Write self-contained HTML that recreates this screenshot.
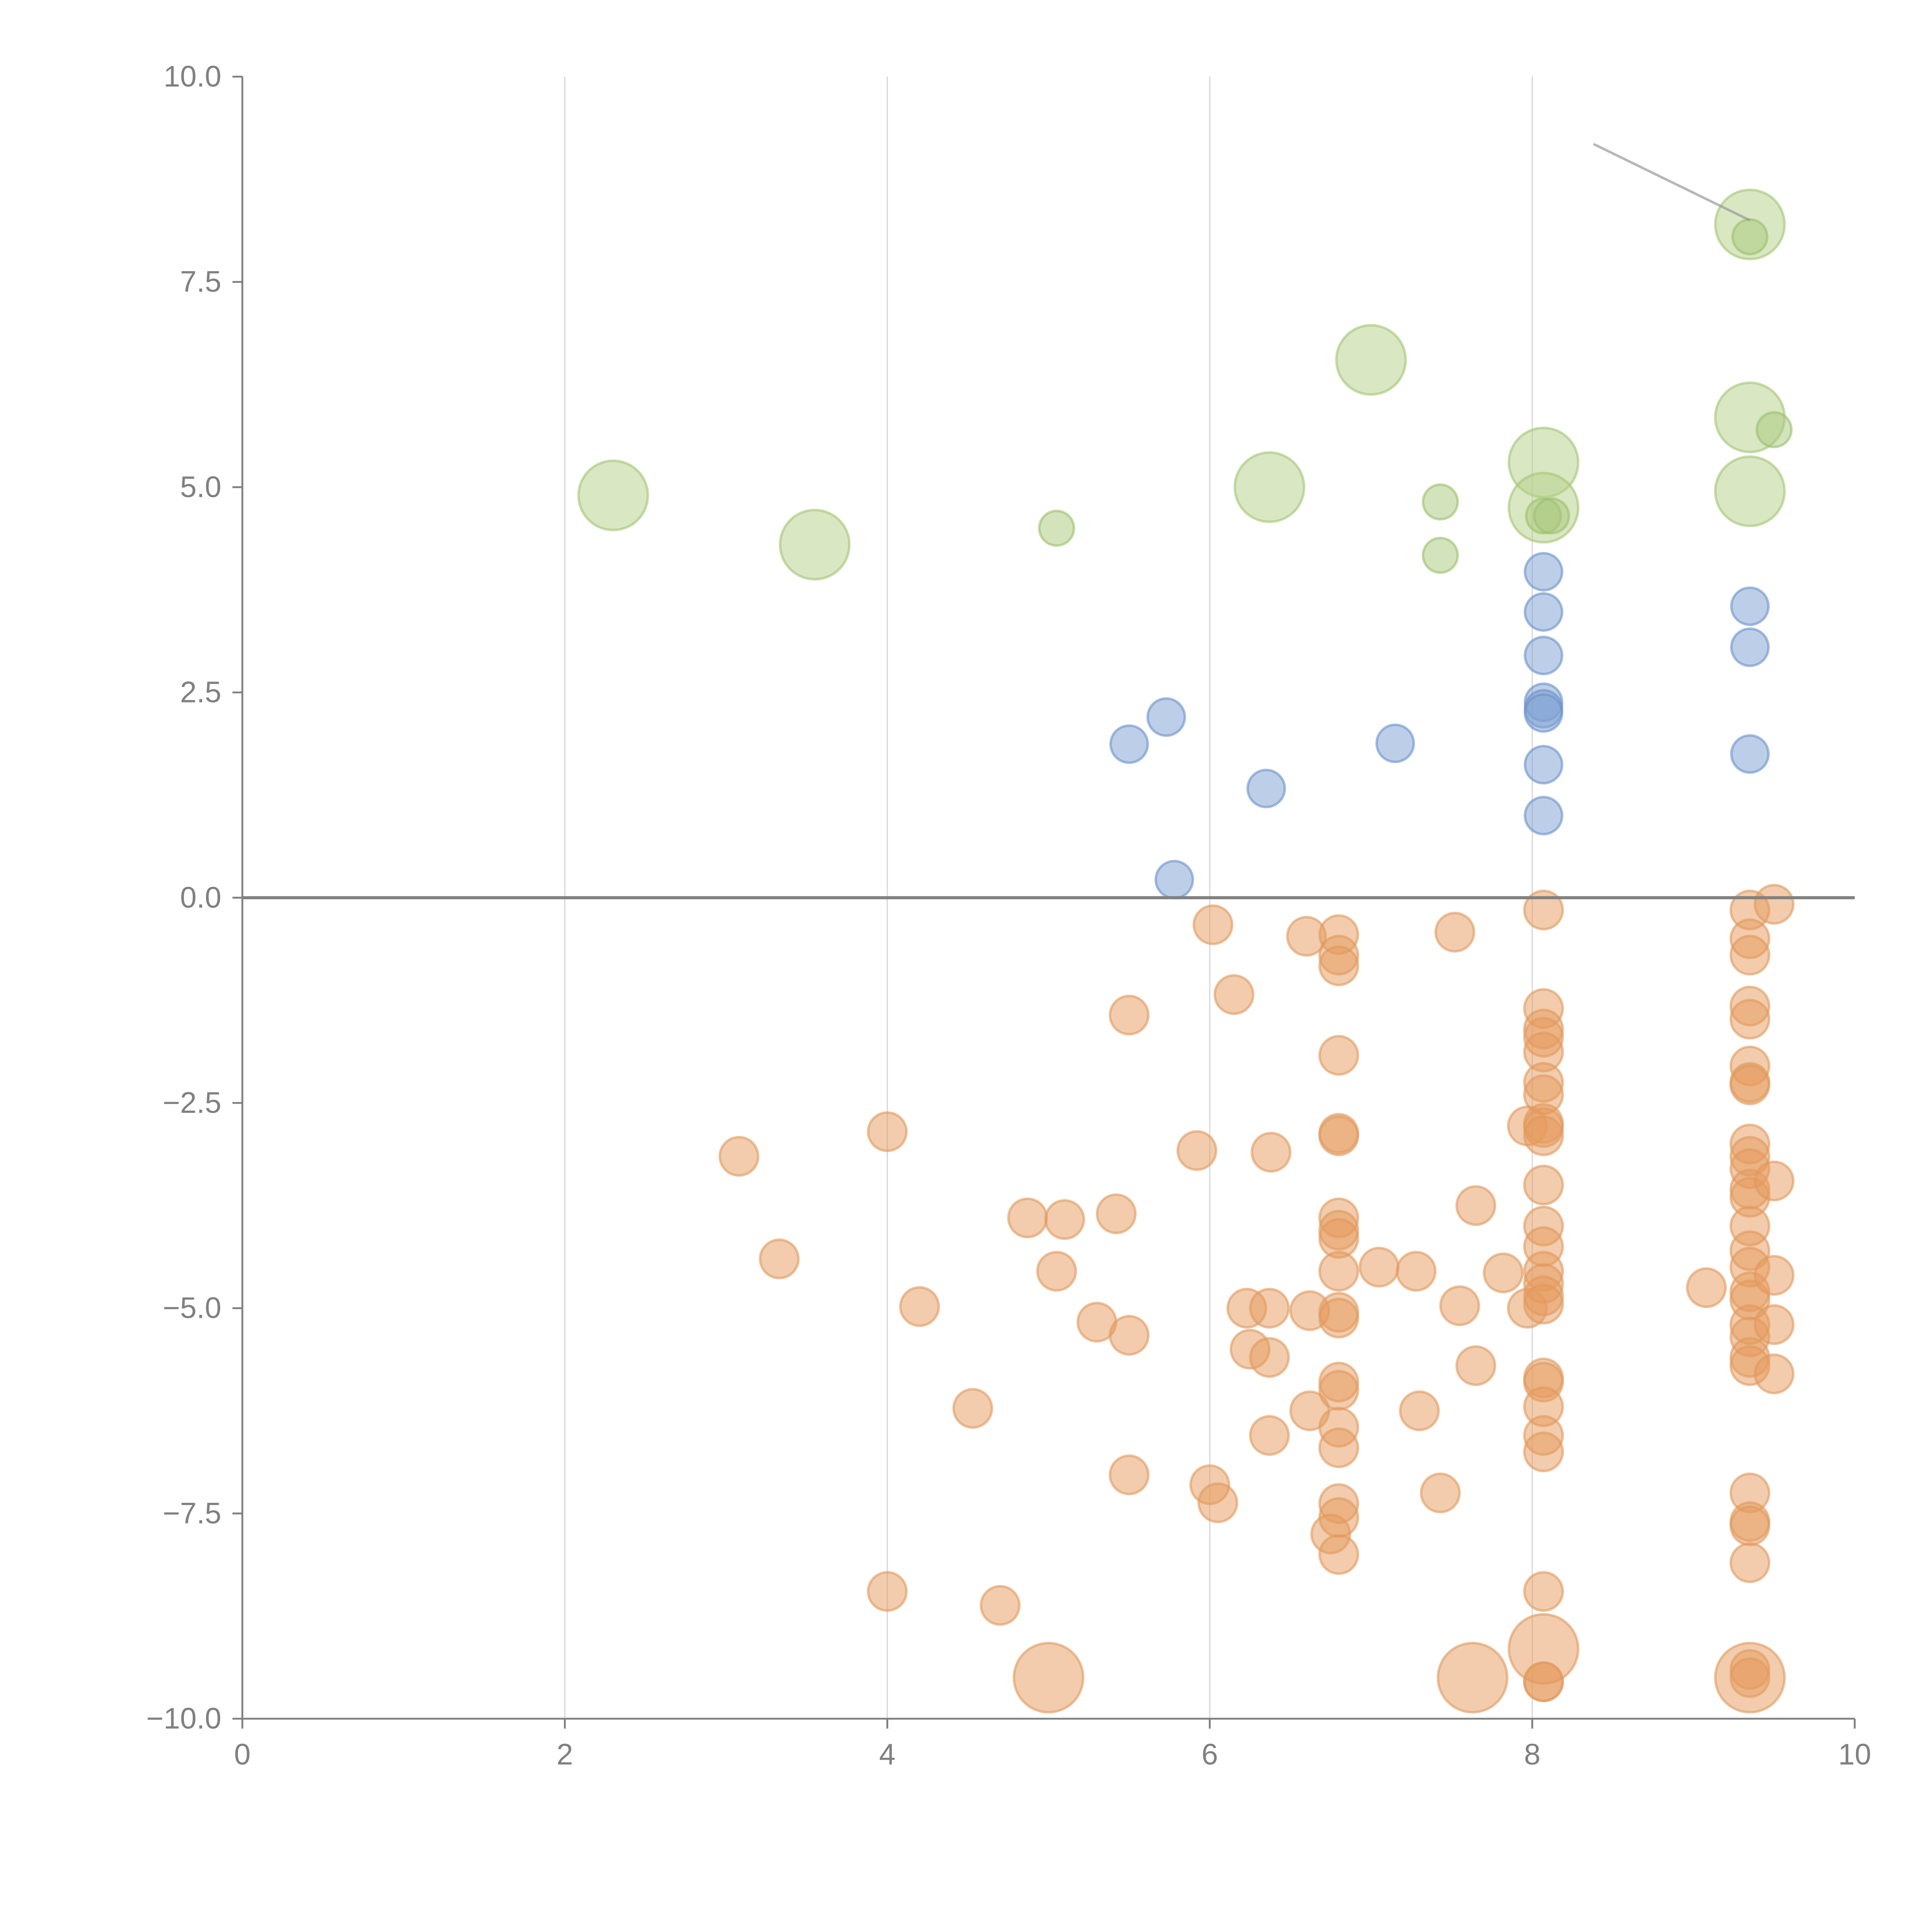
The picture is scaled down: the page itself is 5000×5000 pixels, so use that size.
<!DOCTYPE html>
<html><head><meta charset="utf-8"><style>
html,body{margin:0;padding:0;background:#fff;}
svg{display:block;}
text{font-family:"Liberation Sans",sans-serif;}
</style></head><body>
<svg id="chart" width="5000" height="5000" viewBox="0 0 1562.5 1562.5" xmlns="http://www.w3.org/2000/svg">
<g id="grid"></g>
<g id="marks"></g>
<g id="axes"></g>
</svg>
<script>
const xTicks=[0,2,4,6,8,10];
const yTicks=[10,7.5,5,2.5,0,-2.5,-5,-7.5,-10];
const yTickLabels=["10.0","7.5","5.0","2.5","0.0","\u22122.5","\u22125.0","\u22127.5","\u221210.0"];
const greenBigX=[2.3,3.55,6.37,7.0,8.07,8.07,9.35,9.35,9.35];
const greenBigY=[4.9,4.3,5.0,6.55,5.3,4.75,8.2,5.85,4.95];
const greenSmallX=[5.05,7.43,7.43,9.35,9.5,8.07,8.12];
const greenSmallY=[4.5,4.82,4.17,8.05,5.7,4.65,4.65];
const blueX=[5.5,5.73,5.78,6.35,7.15,8.07,8.07,8.07,8.07,8.07,8.07,8.07,8.07,9.35,9.35,9.35];
const blueY=[1.87,2.2,0.22,1.33,1.88,3.97,3.48,2.95,2.38,2.3,2.25,1.62,1.0,3.55,3.05,1.75];
const orangeX=[6.02,6.6,6.8,6.8,6.8,7.52,5.5,6.15,6.8,4.0,3.08,5.92,6.38,6.8,6.8,3.33,4.2,4.87,5.1,5.42,5.05,5.3,5.5,4.53,5.5,6.0,6.05,6.23,6.37,6.25,6.37,6.37,6.62,6.62,6.8,6.8,6.8,6.8,6.8,6.8,6.8,6.8,6.8,6.8,6.8,6.8,6.75,6.8,7.05,7.28,7.3,7.43,7.55,7.65,7.65,7.82,7.97,4.0,4.7,7.97,
8.07,8.07,8.07,8.07,8.07,8.07,8.07,8.07,8.07,8.07,8.07,8.07,8.07,8.07,8.07,8.07,8.07,8.07,8.07,8.07,8.07,8.07,8.07,8.07,8.07,
9.35,9.35,9.35,9.35,9.35,9.35,9.35,9.35,9.35,9.35,9.35,9.35,9.35,9.35,9.35,9.35,9.35,9.35,9.35,9.35,9.35,9.35,9.35,9.35,9.35,9.35,9.35,9.35,
9.5,9.5,9.5,9.5,9.5,9.08];
const orangeY=[-0.33,-0.47,-0.45,-0.7,-0.83,-0.42,-1.43,-1.18,-1.92,-2.85,-3.15,-3.08,-3.1,-2.87,-2.9,-4.4,-4.98,-3.9,-3.92,-3.85,-4.55,-5.17,-5.33,-6.22,-7.03,-7.15,-7.37,-5.0,-5.0,-5.5,-5.6,-6.55,-5.03,-6.25,-3.9,-4.05,-4.15,-4.55,-5.05,-5.12,-5.9,-6.0,-6.45,-6.7,-7.38,-7.55,-7.75,-8.0,-4.5,-4.55,-6.25,-7.25,-4.97,-3.75,-5.7,-4.57,-5.0,-8.45,-8.62,-2.78,
-0.15,-1.35,-1.6,-1.7,-1.88,-2.25,-2.4,-2.75,-2.8,-2.9,-3.5,-4.0,-4.25,-4.55,-4.7,-4.85,-4.95,-5.85,-5.9,-6.2,-6.55,-6.75,-8.45,-9.55,-9.55,
-0.15,-0.5,-0.7,-1.32,-1.48,-2.05,-2.25,-2.28,-3.0,-3.15,-3.3,-3.55,-3.65,-4.0,-4.3,-4.5,-4.8,-4.9,-5.2,-5.35,-5.6,-5.7,-7.25,-7.6,-7.65,-8.1,-9.4,-9.5,
-0.08,-3.45,-4.6,-5.2,-5.8,-4.75];
const orangeBigX=[5.0,7.63,8.07,9.35];
const orangeBigY=[-9.5,-9.5,-9.15,-9.5];

const X0=196,X1=1500,Y0=1390,Y1=62;
function sx(v){return X0+(v-0)/(10-0)*(X1-X0);}
function sy(v){return Y0-(v+10)/20*(Y0-Y1);}
const NS="http://www.w3.org/2000/svg";
function mk(tag,attrs,parent){const e=document.createElementNS(NS,tag);for(const k in attrs)e.setAttribute(k,attrs[k]);parent.appendChild(e);return e;}
const grid=document.getElementById('grid'),marks=document.getElementById('marks'),axes=document.getElementById('axes');

xTicks.forEach(t=>{ if(t>0&&t<10){const l=mk('line',{x1:sx(t),x2:sx(t),y1:Y1,y2:Y0,stroke:'#d8d8d8','stroke-width':1},grid);

}});

function dots(xs,ys,r,fill,stroke,name){
  for(let i=0;i<xs.length;i++){
    const c=mk('circle',{cx:sx(xs[i]),cy:sy(ys[i]),r:r,fill:fill,'fill-opacity':0.5,stroke:stroke,'stroke-opacity':0.6,'stroke-width':2},marks);
    
    
  }
}
dots(orangeX,orangeY,15.5,'#e59a5c','#e09a5f','orange-point');
dots(orangeBigX,orangeBigY,28,'#e59a5c','#e09a5f','orange-bubble');
dots(blueX,blueY,15,'#7b9fd2','#6b91c9','blue-point');
dots(greenBigX,greenBigY,28,'#b4cf88','#a4c575','green-bubble');
dots(greenSmallX,greenSmallY,14,'#a8c779','#9bbf6a','green-point');

const lead=mk('line',{x1:sx(8.38),y1:sy(9.18),x2:sx(9.35),y2:sy(8.25),stroke:'#999','stroke-opacity':0.7,'stroke-width':2},marks);



const z=mk('line',{x1:X0,x2:X1,y1:sy(0),y2:sy(0),stroke:'#808080','stroke-width':2.5},axes);


const ya=mk('line',{x1:X0,x2:X0,y1:Y1,y2:Y0,stroke:'#808080','stroke-width':1.5},axes);


const xa=mk('line',{x1:X0,x2:X1,y1:Y0,y2:Y0,stroke:'#808080','stroke-width':1.5},axes);



xTicks.forEach(t=>{
  const tk=mk('line',{x1:sx(t),x2:sx(t),y1:Y0,y2:Y0+8,stroke:'#808080','stroke-width':1.5},axes);
  
  
  const tx=mk('text',{x:sx(t),y:Y0+37,'text-anchor':'middle','font-size':24,fill:'#808080'},axes);
  tx.textContent=String(t);
  
  
});
yTicks.forEach((t,i)=>{
  const tk=mk('line',{x1:X0-8,x2:X0,y1:sy(t),y2:sy(t),stroke:'#808080','stroke-width':1.5},axes);
  
  
  const tx=mk('text',{x:X0-17,y:sy(t)+8,'text-anchor':'end','font-size':24,fill:'#808080'},axes);
  tx.textContent=yTickLabels[i];
  
  
});
</script>
</body></html>
